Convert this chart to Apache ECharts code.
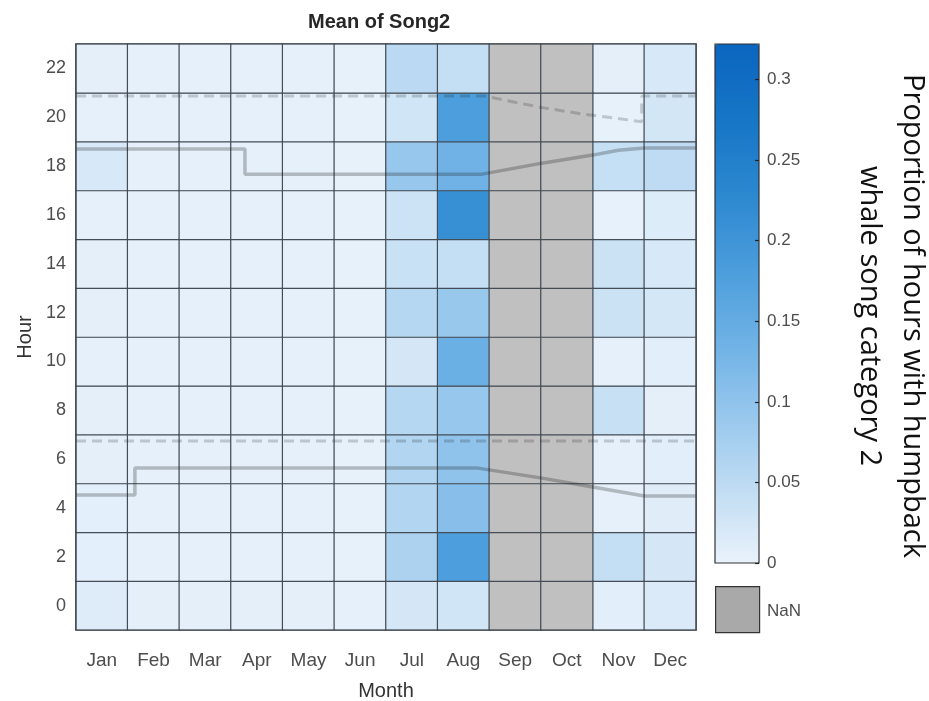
<!DOCTYPE html>
<html>
<head>
<meta charset="utf-8">
<script src="https://cdn.jsdelivr.net/npm/echarts@6/dist/echarts.min.js"></script>
<style>
html,body{margin:0;padding:0;background:#fff;}
#chart{width:929px;height:701px;}
</style>
</head>
<body>
<div id="chart"></div>
<script>
// ---- data ----
const months = ['Jan','Feb','Mar','Apr','May','Jun','Jul','Aug','Sep','Oct','Nov','Dec'];
const hours = ['0','2','4','6','8','10','12','14','16','18','20','22'];
// values per month, hour bins 0 -> 22 (null = NaN)
const jan = [0.012, 0.007, 0.007, 0.006, 0.006, 0.005, 0.006, 0.006, 0.005, 0.020, 0.005, 0.006];
const feb = [0.006, 0.004, 0.004, 0.004, 0.004, 0.004, 0.004, 0.004, 0.004, 0.004, 0.004, 0.004];
const mar = [0.006, 0.004, 0.004, 0.004, 0.004, 0.004, 0.004, 0.004, 0.004, 0.004, 0.004, 0.004];
const apr = [0.006, 0.004, 0.004, 0.004, 0.004, 0.004, 0.004, 0.004, 0.004, 0.004, 0.004, 0.004];
const may = [0.006, 0.004, 0.004, 0.004, 0.004, 0.004, 0.004, 0.004, 0.004, 0.004, 0.004, 0.004];
const jun = [0.005, 0.003, 0.003, 0.003, 0.003, 0.003, 0.003, 0.003, 0.003, 0.003, 0.003, 0.003];
const jul = [0.022, 0.068, 0.062, 0.062, 0.058, 0.022, 0.058, 0.036, 0.032, 0.092, 0.028, 0.052];
const aug = [0.028, 0.180, 0.110, 0.100, 0.092, 0.140, 0.090, 0.042, 0.210, 0.135, 0.180, 0.042];
const sep = [null, null, null, null, null, null, null, null, null, null, null, null];
const oct = [null, null, null, null, null, null, null, null, null, null, null, null];
const nov = [0.008, 0.042, 0.005, 0.004, 0.038, 0.004, 0.034, 0.034, 0.002, 0.040, 0.003, 0.006];
const dec = [0.016, 0.022, 0.010, 0.008, 0.006, 0.008, 0.024, 0.020, 0.013, 0.048, 0.026, 0.020];
const monthValues = [jan, feb, mar, apr, may, jun, jul, aug, sep, oct, nov, dec];

// overlay lines: [month position (0-12), hour (0-24)]
const sunsetLine  = [[0,19.7],[3.27,19.7],[3.27,18.67],[7.86,18.67],[9.02,19.12],[10.0,19.45],[10.5,19.65],[11.0,19.74],[12,19.74]];
const duskLine    = [[0,21.87],[7.9,21.87],[8.98,21.41],[9.81,21.13],[10.95,20.82],[10.95,21.87],[12,21.87]];
const dawnLine    = [[0,7.74],[12,7.74]];
const sunriseLine = [[0,5.53],[1.14,5.53],[1.14,6.63],[7.78,6.63],[9.02,6.22],[10.0,5.86],[11.0,5.49],[12,5.49]];

const colorMin = 0, colorMax = 0.322;
const colorbarStep = 0.05;

// ---- build ----
const cells = [], nanCells = [];
monthValues.forEach((col, m) => col.forEach((v, h) => {
  if (v === null) nanCells.push([m, h, 0]); else cells.push([m, h, v]);
}));

const FONT = 'Liberation Sans, Arial, sans-serif';
const chart = echarts.init(document.getElementById('chart'), null, {renderer:'canvas'});
const lineSolid = {color:'rgba(25,25,25,0.26)', width:3.5};
const lineDash  = {color:'rgba(25,25,25,0.20)', width:3, type:[10,6]};

chart.setOption({
  animation:false,
  backgroundColor:'#fff',
  title:{text:'Mean of Song2', left:308, top:12, padding:0,
    textStyle:{fontSize:20, fontWeight:'bold', color:'#262626', fontFamily:FONT}},
  grid:[
    {left:76, right:233, top:44, bottom:71, show:true, borderColor:'#3f464d', borderWidth:1.2, backgroundColor:'transparent', z:6, outerBoundsMode:'none', containLabel:false},
    {left:76, right:233, top:44, bottom:71, outerBoundsMode:'none', containLabel:false},
    {left:715, width:44, top:44, height:519, show:true, borderColor:'#333', borderWidth:1.2, backgroundColor:'transparent', z:10, outerBoundsMode:'none', containLabel:false}
  ],
  xAxis:[
    {gridIndex:0, type:'category', data:months, axisLine:{show:false}, axisTick:{show:false}, splitLine:{show:false},
     axisLabel:{fontSize:19, color:'#4d4d4d', margin:21, fontFamily:FONT},
     name:'Month', nameLocation:'middle', nameGap:51, nameTextStyle:{fontSize:20, color:'#333', fontFamily:FONT}},
    {gridIndex:1, type:'value', min:0, max:12, show:false},
    {gridIndex:2, type:'value', min:0, max:1, show:false}
  ],
  yAxis:[
    {gridIndex:0, type:'category', data:hours, axisLine:{show:false}, axisTick:{show:false}, splitLine:{show:false},
     axisLabel:{fontSize:18, color:'#4d4d4d', margin:10, fontFamily:FONT},
     name:'Hour', nameLocation:'middle', nameGap:40, nameRotate:90, nameTextStyle:{fontSize:20, color:'#333', fontFamily:FONT}},
    {gridIndex:1, type:'value', min:0, max:24, show:false},
    {gridIndex:2, type:'value', min:colorMin, max:colorMax, interval:colorbarStep, position:'right', z:10,
     axisLine:{show:false, onZero:false}, splitLine:{show:false},
     axisTick:{show:true, inside:true, length:4, lineStyle:{color:'#222', width:1.2}},
     axisLabel:{fontSize:17, color:'#4d4d4d', margin:8, showMaxLabel:false, fontFamily:FONT}}
  ],
  visualMap:[
    {type:'continuous', seriesIndex:0, min:colorMin, max:colorMax, calculable:false, show:true,
     left:715, top:44, itemWidth:44, itemHeight:519, padding:0, text:null, hoverLink:false,
     inRange:{color:['#e9f2fb','#c0dcf3','#97c7ed','#6db1e5','#4a9cdb','#2b87cf','#1675c6','#0a66bf']}},
    {type:'continuous', seriesIndex:1, min:0, max:1, show:false, inRange:{color:['#c0c0c0','#c0c0c0']}}
  ],
  graphic:[
    {type:'rect', left:715, top:586, shape:{width:44, height:46}, style:{fill:'#a9a9a9', stroke:'#333', lineWidth:1.2}},
    {type:'text', left:767, top:603, style:{text:'NaN', fontSize:17, fill:'#4d4d4d', fontFamily:FONT}},
    {type:'text', x:891, y:316, rotation:-Math.PI/2,
     style:{text:'Proportion of hours with humpback\nwhale song category 2', fontSize:29, lineHeight:43,
            fontFamily:'Open Sans', fill:'#111', align:'center', verticalAlign:'middle'}}
  ],
  series:[
    {type:'heatmap', xAxisIndex:0, yAxisIndex:0, data:cells, silent:true,
     itemStyle:{borderColor:'#444c55', borderWidth:1.2}, emphasis:{disabled:true}},
    {type:'heatmap', xAxisIndex:0, yAxisIndex:0, data:nanCells, silent:true,
     itemStyle:{borderColor:'#444c55', borderWidth:1.2}, emphasis:{disabled:true}},
    {type:'line', xAxisIndex:1, yAxisIndex:1, data:sunsetLine, showSymbol:false, silent:true, z:5, lineStyle:lineSolid},
    {type:'line', xAxisIndex:1, yAxisIndex:1, data:duskLine, showSymbol:false, silent:true, z:5, lineStyle:lineDash},
    {type:'line', xAxisIndex:1, yAxisIndex:1, data:dawnLine, showSymbol:false, silent:true, z:5, lineStyle:lineDash},
    {type:'line', xAxisIndex:1, yAxisIndex:1, data:sunriseLine, showSymbol:false, silent:true, z:5, lineStyle:lineSolid}
  ]
});
</script>
</body>
</html>
